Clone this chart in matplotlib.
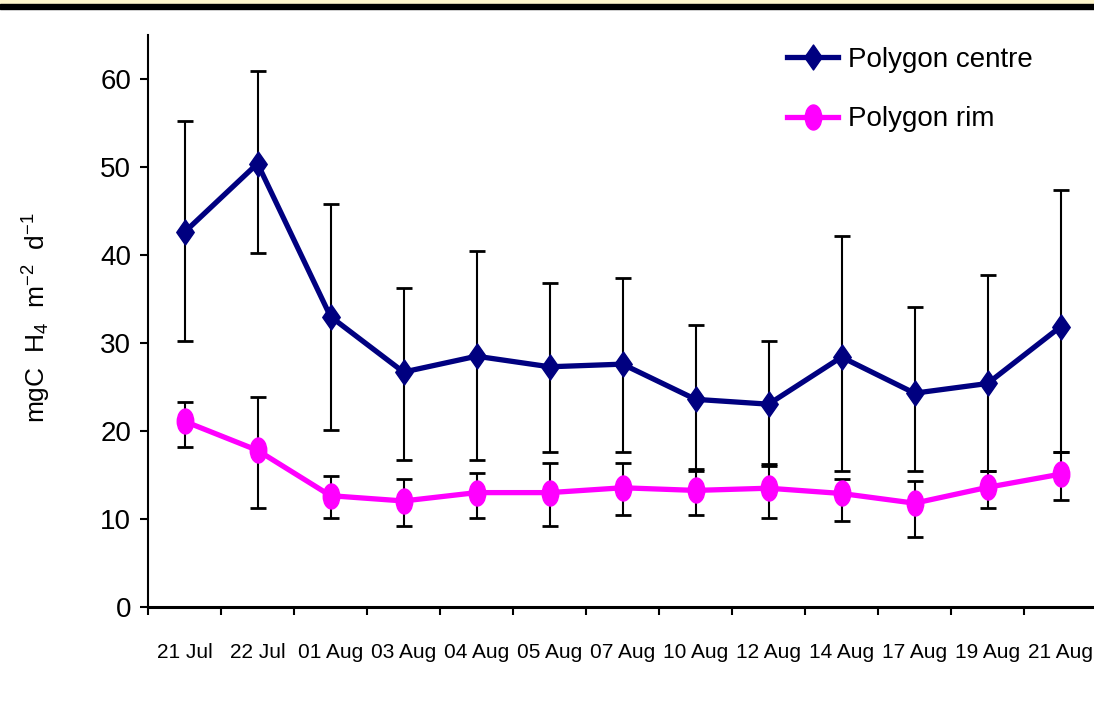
import numpy as np
import matplotlib
matplotlib.use("Agg")
import matplotlib.pyplot as plt
from matplotlib.path import Path
from matplotlib.patches import Rectangle

# data
dates = ["21 Jul", "22 Jul", "01 Aug", "03 Aug", "04 Aug", "05 Aug", "07 Aug",
         "10 Aug", "12 Aug", "14 Aug", "17 Aug", "19 Aug", "21 Aug"]

centre = [42.6, 50.4, 33.0, 26.7, 28.5, 27.3, 27.6, 23.6, 23.05, 28.4, 24.3, 25.4, 31.85]
centre_hi = [55.2, 60.9, 45.8, 36.2, 40.45, 36.85, 37.4, 32.0, 30.2, 42.2, 34.1, 37.7, 47.35]
centre_lo = [30.2, 40.2, 20.1, 16.7, 16.7, 17.65, 17.65, 15.7, 16.3, 15.5, 15.5, 15.5, 17.6]

rim = [21.1, 17.8, 12.65, 12.05, 13.0, 13.0, 13.55, 13.25, 13.5, 12.9, 11.8, 13.6, 15.1]
rim_hi = [23.3, 23.9, 14.9, 14.6, 15.2, 16.4, 16.4, 15.5, 16.05, 14.6, 14.3, 15.4, 17.6]
rim_lo = [18.2, 11.3, 10.1, 9.2, 10.1, 9.2, 10.4, 10.4, 10.1, 9.8, 8.0, 11.3, 12.2]

font = ["Liberation Sans", "DejaVu Sans"]
plt.rcParams["mathtext.default"] = "regular"

# tall markers like the excel ones
diamond = Path([(0, 1), (0.7, 0), (0, -1), (-0.7, 0), (0, 1)],
               [Path.MOVETO, Path.LINETO, Path.LINETO, Path.LINETO, Path.CLOSEPOLY])
circ = Path.unit_circle()
ellipse = Path(circ.vertices * np.array([0.66, 1.0]), circ.codes)

fig = plt.figure(figsize=(10.94, 7.05), dpi=100)
ax = fig.add_axes([0.1353, 0.139, 0.8675, 0.8113])

x = np.arange(len(dates))
c = np.array(centre)
r = np.array(rim)

ax.errorbar(x, c, yerr=[c - np.array(centre_lo), np.array(centre_hi) - c], fmt="none",
            ecolor="black", elinewidth=1.5, capsize=6, capthick=2, zorder=2)
ax.errorbar(x, r, yerr=[r - np.array(rim_lo), np.array(rim_hi) - r], fmt="none",
            ecolor="black", elinewidth=1.5, capsize=6, capthick=2, zorder=2)

ax.plot(x, c, color="#000080", lw=3.8, marker=diamond, ms=18,
        label="Polygon centre", zorder=3)
ax.plot(x, r, color="#FF00FF", lw=3.8, marker=ellipse, ms=18,
        label="Polygon rim", zorder=3)

ax.set_xlim(-0.5, len(dates) - 0.5)
ax.set_ylim(0, 65)
ax.set_yticks(range(0, 61, 10))
ax.set_xticks(x)
ax.set_xticklabels(dates, family=font, fontsize=15)
ax.set_xticks(np.arange(-0.5, len(dates), 1), minor=True)
ax.tick_params(axis="x", which="major", length=0, pad=26)
ax.tick_params(axis="x", which="minor", length=6, width=1.5, direction="out")
ax.tick_params(axis="y", length=6, width=1.5, direction="out", pad=6)
for lab in ax.get_yticklabels():
    lab.set_family(font)
    lab.set_fontsize(20)

for s in ["top", "right"]:
    ax.spines[s].set_visible(False)
ax.spines["left"].set_linewidth(1.5)
ax.spines["bottom"].set_linewidth(2.2)

fig.text(0.034, 0.55, "mgC  H$_4$  m$^{-2}$  d$^{-1}$", rotation=90, ha="center",
         va="center", fontsize=19, family=font)

ax.legend(loc="upper left", bbox_to_anchor=(787 / 1094, 1 - 47 / 705),
          bbox_transform=fig.transFigure, frameon=False, handlelength=1.85,
          handletextpad=0.36, labelspacing=1.2, borderpad=0, borderaxespad=0,
          prop={"family": font, "size": 20})

# frame strip at the top of the image
fig.patches.append(Rectangle((0, 1 - 4 / 705), 1, 4 / 705, transform=fig.transFigure,
                             color="#FFF6CC", zorder=0))
fig.patches.append(Rectangle((0, 1 - 9 / 705), 1, 5 / 705, transform=fig.transFigure,
                             color="black", zorder=1))

fig.savefig("out.png", dpi=100)
